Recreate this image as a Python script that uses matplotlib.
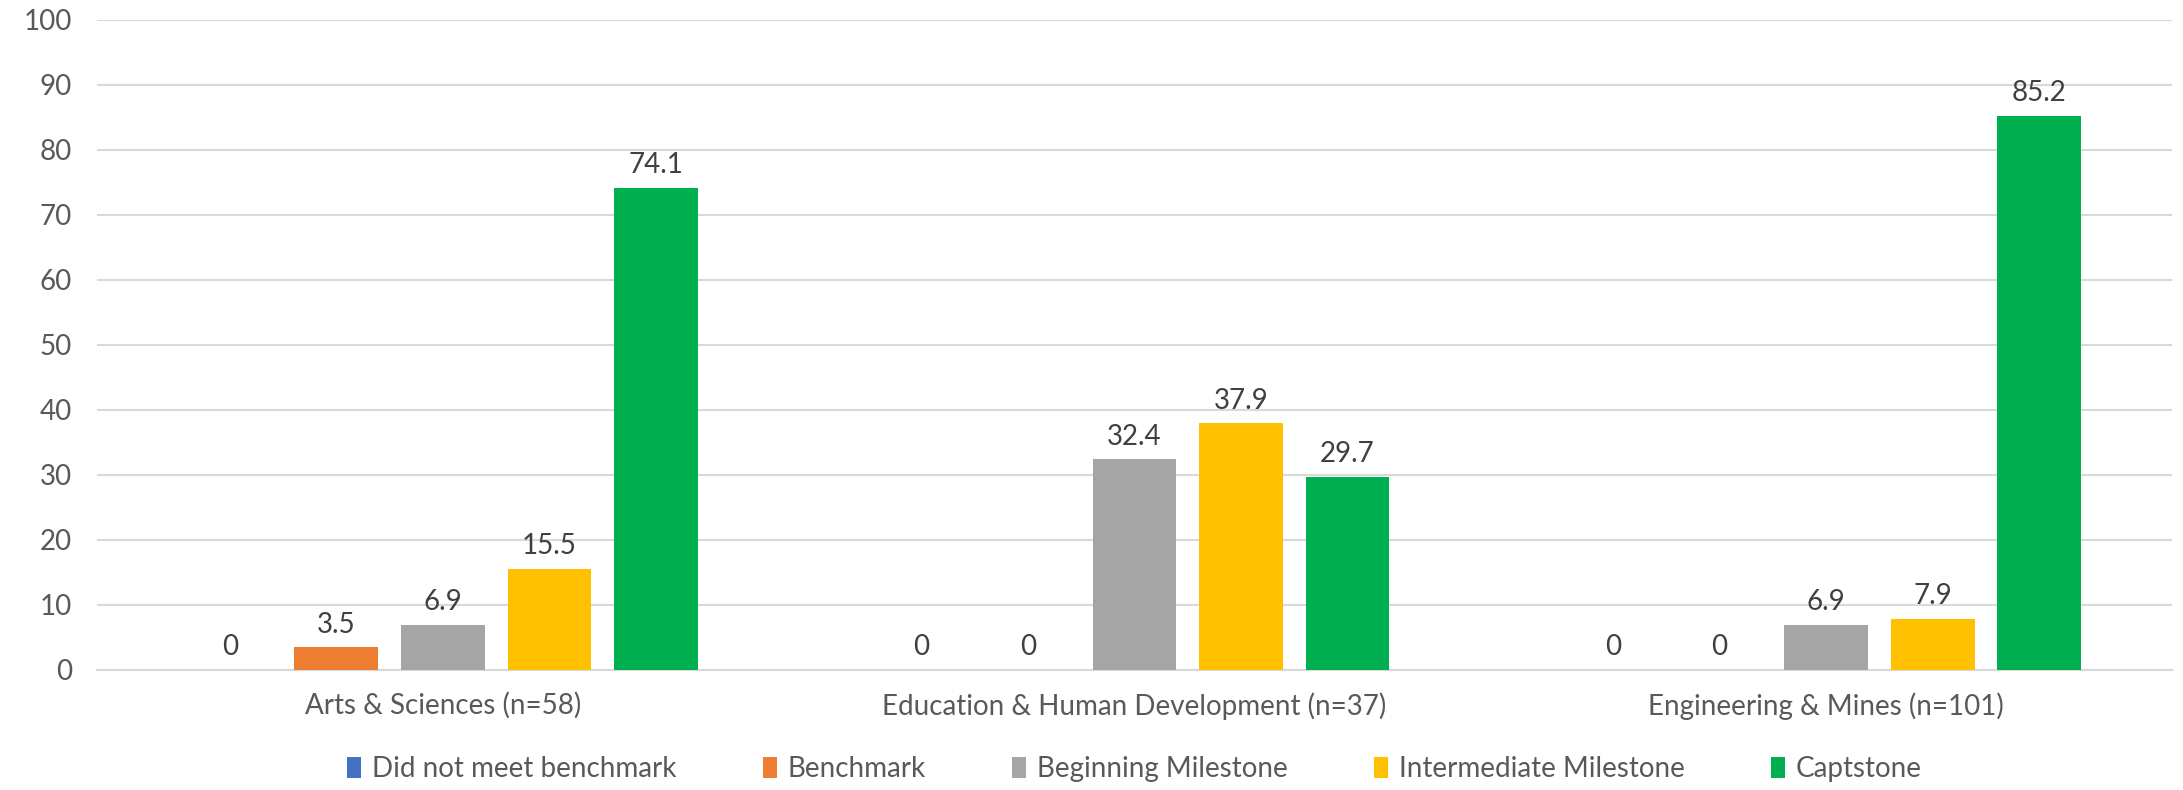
import numpy as np
import matplotlib.pyplot as plt

plt.rcParams['font.family'] = ['Lato', 'DejaVu Sans']

categories = ['Arts & Sciences (n=58)',
              'Education & Human Development (n=37)',
              'Engineering & Mines (n=101)']
series = ['Did not meet benchmark', 'Benchmark', 'Beginning Milestone',
          'Intermediate Milestone', 'Captstone']
did_not_meet = [0, 0, 0]
benchmark = [3.5, 0, 0]
beginning = [6.9, 32.4, 6.9]
intermediate = [15.5, 37.9, 7.9]
capstone = [74.1, 29.7, 85.2]

values = [did_not_meet, benchmark, beginning, intermediate, capstone]
colors = ['#4472C4', '#ED7D31', '#A5A5A5', '#FFC000', '#00B050']
text_color = '#595959'
fs = 20

fig = plt.figure(figsize=(21.83, 7.9), dpi=100)
ax = fig.add_axes([97 / 2183, 1 - 670 / 790, (2172 - 97) / 2183, (670 - 19.5) / 790])

x = np.arange(len(categories))
step = 0.154
width = 0.121
for i, (name, vals, col) in enumerate(zip(series, values, colors)):
    pos = x + (i - 2) * step
    bars = ax.bar(pos, vals, width, color=col, label=name, zorder=3)
    for b, v in zip(bars, vals):
        ax.annotate(f'{v:g}', (b.get_x() + b.get_width() / 2, v),
                    xytext=(0, 7), textcoords='offset points',
                    ha='center', va='bottom', fontsize=fs, color='#404040')

ax.set_xlim(-0.5, 2.5)
ax.set_ylim(0, 100)
ax.set_yticks(range(0, 101, 10))
ax.set_xticks(x)
ax.set_xticklabels(categories)
ax.grid(axis='y', color='#D9D9D9', linewidth=1.5, zorder=0)
for s in ['top', 'right', 'left']:
    ax.spines[s].set_visible(False)
ax.spines['bottom'].set_color('#D9D9D9')
ax.spines['bottom'].set_linewidth(1.5)
ax.tick_params(axis='both', length=0, labelsize=fs, colors=text_color)
ax.tick_params(axis='x', pad=16)
ax.tick_params(axis='y', pad=18)

# legend centred under the plot area, not the whole figure
leg = fig.legend(loc='center', bbox_to_anchor=((97 + 2172) / 2 / 2183, 1 - 769 / 790),
                 ncol=5, frameon=False, fontsize=fs, handlelength=0.5,
                 handleheight=0.8, handletextpad=0.4, columnspacing=3.1, borderpad=0)
for t in leg.get_texts():
    t.set_color(text_color)

fig.savefig('out.png', dpi=100)
